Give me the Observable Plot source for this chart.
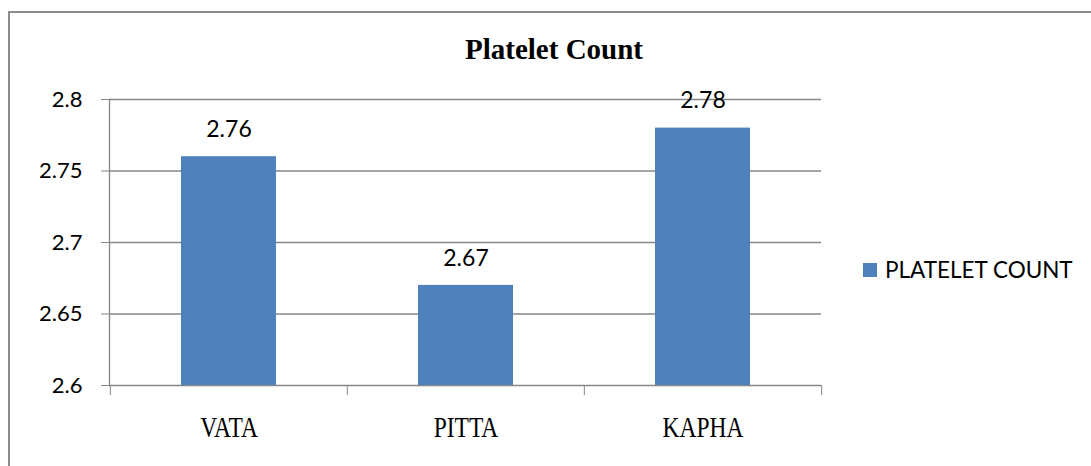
<!DOCTYPE html>
<html>
<head>
<meta charset="utf-8">
<script src="https://cdn.jsdelivr.net/npm/d3@7"></script>
<script src="https://cdn.jsdelivr.net/npm/@observablehq/plot@0.6"></script>
<style>
  html, body { margin: 0; padding: 0; background: #fff; }
  body { width: 1091px; height: 466px; position: relative; overflow: hidden; }
  #frame { position: absolute; left: 8px; top: 11px; width: 1100px; height: 470px;
           border-left: 2px solid #8c8c8c; border-top: 2px solid #8c8c8c; }
  #title { position: absolute; left: 0; width: 1108px; top: 33px; text-align: center;
           font-family: "Liberation Serif", serif; font-weight: bold; font-size: 29px; color: #000; }
  #chart { position: absolute; left: 0; top: 0; }
  #legend { position: absolute; left: 863px; top: 256px; display: flex; align-items: center;
            font-family: Lato, sans-serif; font-size: 22.5px; color: #000; }
  #legend .sw { width: 14px; height: 14px; background: #4f81bd; margin-right: 8px; }
</style>
</head>
<body>
<div id="frame"></div>
<div id="chart"></div>
<div id="title">Platelet Count</div>
<div id="legend"><span class="sw"></span><span>PLATELET COUNT</span></div>
<script>
const categories = ["VATA", "PITTA", "KAPHA"];
const values = [2.76, 2.67, 2.78];
const yTicks = [2.6, 2.65, 2.7, 2.75, 2.8];
const seriesName = "PLATELET COUNT";

const data = categories.map((c, i) => ({category: c, value: values[i]}));

const W = 1091, H = 466;
const mL = 109, mR = W - 821, mT = 99, mB = H - 385;
const step = (W - mL - mR) / categories.length;
const grid = "#868686";

const chart = Plot.plot({
  width: W,
  height: H,
  marginLeft: mL,
  marginRight: mR,
  marginTop: mT,
  marginBottom: mB,
  style: {background: "transparent", overflow: "visible"},
  x: {domain: categories, paddingInner: 0.6, paddingOuter: 0.3, label: null},
  y: {domain: [2.6, 2.8], label: null},
  marks: [
    Plot.ruleY(yTicks, {stroke: grid, strokeWidth: 1.3}),
    Plot.barY(data, {x: "category", y1: 2.6, y2: "value", fill: "#4f81bd"}),
    Plot.text(data, {x: "category", y: "value", text: d => String(d.value), dy: -27,
      fontSize: 23, fontFamily: "Lato, sans-serif", fill: "#000"}),
    Plot.frame({anchor: "left", stroke: grid, strokeWidth: 1.3}),
    Plot.axisY({ticks: yTicks, tickFormat: d => String(d), tickSize: 8, tickPadding: 19,
      stroke: grid, fontSize: 22, fontFamily: "Lato, sans-serif", fill: "#000", label: null}),
    Plot.axisX({ticks: categories, tickSize: 10, dx: -step / 2, text: null, stroke: grid, label: null}),
    Plot.axisX({ticks: [categories[categories.length - 1]], tickSize: 10, dx: step / 2, text: null, stroke: grid, label: null}),
    Plot.axisX({ticks: categories, tickSize: 0, tickPadding: 31, fontSize: 29,
      fontFamily: "Liberation Serif, serif", fill: "#000", label: null})
  ]
});
chart.querySelectorAll("text").forEach(t => t.setAttribute("fill", "#000"));
chart.querySelectorAll('g[aria-label="x-axis tick label"] text').forEach(t => {
  const tr = t.getAttribute("transform") || "";
  t.setAttribute("transform", tr + " scale(0.81,1)");
});
document.getElementById("chart").appendChild(chart);
</script>
</body>
</html>
